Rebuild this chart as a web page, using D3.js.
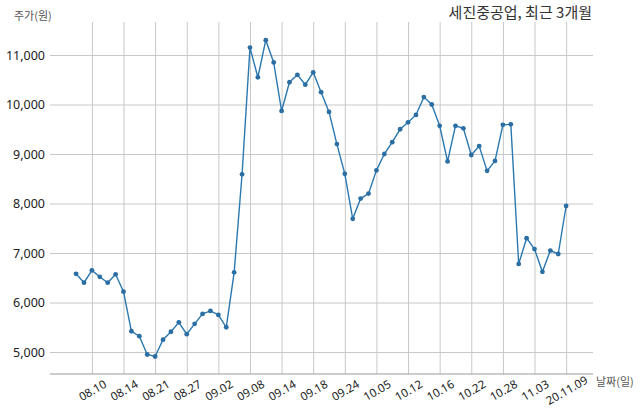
<!DOCTYPE html>
<html>
<head>
<meta charset="utf-8">
<script src="https://cdn.jsdelivr.net/npm/d3@7"></script>
<style>
  html, body { margin: 0; padding: 0; background: #fff; }
  svg { display: block; }
  text { font-family: "Noto Sans CJK KR", "Noto Sans", sans-serif; }
</style>
</head>
<body>
<svg id="chart" width="640" height="414"></svg>
<script>
const tickLabels = ["08.10","08.14","08.21","08.27","09.02","09.08","09.14","09.18","09.24","10.05","10.12","10.16","10.22","10.28","11.03","20.11.09"];
const tickIndex = [2,6,10,14,18,22,26,30,34,38,42,46,50,54,58,62];
const prices = [
  6580, 6400, 6650, 6520, 6400, 6570, 6220, 5420, 5320, 4950,
  4910, 5250, 5410, 5600, 5360, 5570, 5770, 5830, 5750, 5500,
  6610, 8590, 11150, 10550, 11300, 10850, 9870, 10450, 10600, 10400,
  10650, 10250, 9850, 9200, 8600, 7690, 8100, 8200, 8670, 9000,
  9240, 9500, 9640, 9790, 10150, 10000, 9570, 8850, 9570, 9520,
  8980, 9160, 8660, 8860, 9590, 9600, 6780, 7300, 7080, 6620,
  7050, 6980, 7950
];
const yTicks = [5000, 6000, 7000, 8000, 9000, 10000, 11000];

const svg = d3.select("#chart");
const mLeft = 50, mRight = 593, mTop = 22, mBottom = 374;

const x = d3.scaleLinear().domain([-3.3, 65.4]).range([mLeft, mRight]);
const y = d3.scaleLinear().domain([4556, 11667]).range([mBottom, mTop]);

// horizontal grid
const yAxis = d3.axisLeft(y).tickValues(yTicks).tickSize(-(mRight - mLeft)).tickFormat(d3.format(","));
const gy = svg.append("g").attr("transform", `translate(${mLeft},0)`).call(yAxis);
gy.select(".domain").remove();
gy.selectAll(".tick line").attr("stroke", "#c8c8c8").attr("stroke-width", 1);
gy.selectAll(".tick text").attr("x", -5).attr("fill", "#222").style("font-size", "12.5px")
  .style("font-family", "'Noto Sans', 'DejaVu Sans', sans-serif");

// vertical grid + labels
const xAxis = d3.axisBottom(x).tickValues(tickIndex).tickSize(-(mBottom - mTop))
  .tickFormat((d, i) => tickLabels[i]);
const gx = svg.append("g").attr("transform", `translate(0,${mBottom})`).call(xAxis);
gx.select(".domain").remove();
gx.selectAll(".tick line").attr("stroke", "#c8c8c8").attr("stroke-width", 1);
gx.selectAll(".tick text")
  .attr("fill", "#222")
  .style("font-size", "11.5px")
  .style("font-family", "'Noto Sans', 'DejaVu Sans', sans-serif")
  .attr("text-anchor", "middle")
  .attr("dominant-baseline", "central")
  .attr("x", 0).attr("y", 0).attr("dy", null)
  .attr("transform", "translate(0,16) rotate(-30)");

// bottom spine
svg.append("line")
  .attr("x1", mLeft).attr("x2", mRight)
  .attr("y1", mBottom).attr("y2", mBottom)
  .attr("stroke", "#999").attr("stroke-width", 1);

// line
const line = d3.line().x((d, i) => x(i)).y(d => y(d));
svg.append("path")
  .datum(prices)
  .attr("d", line)
  .attr("fill", "none")
  .attr("stroke", "#2b78b0")
  .attr("stroke-width", 1.4);

svg.append("g").selectAll("circle")
  .data(prices)
  .join("circle")
  .attr("cx", (d, i) => x(i))
  .attr("cy", d => y(d))
  .attr("r", 2.4)
  .attr("fill", "#2b6ea3");

// labels
svg.append("text").attr("x", 592).attr("y", 18).attr("text-anchor", "end")
  .attr("fill", "#333").style("font-size", "15px").text("세진중공업, 최근 3개월");
svg.append("text").attr("x", 14).attr("y", 20)
  .attr("fill", "#555").style("font-size", "11px").text("주가(원)");
svg.append("text").attr("x", 596).attr("y", 386)
  .attr("fill", "#555").style("font-size", "11px").text("날짜(일)");
</script>
</body>
</html>
